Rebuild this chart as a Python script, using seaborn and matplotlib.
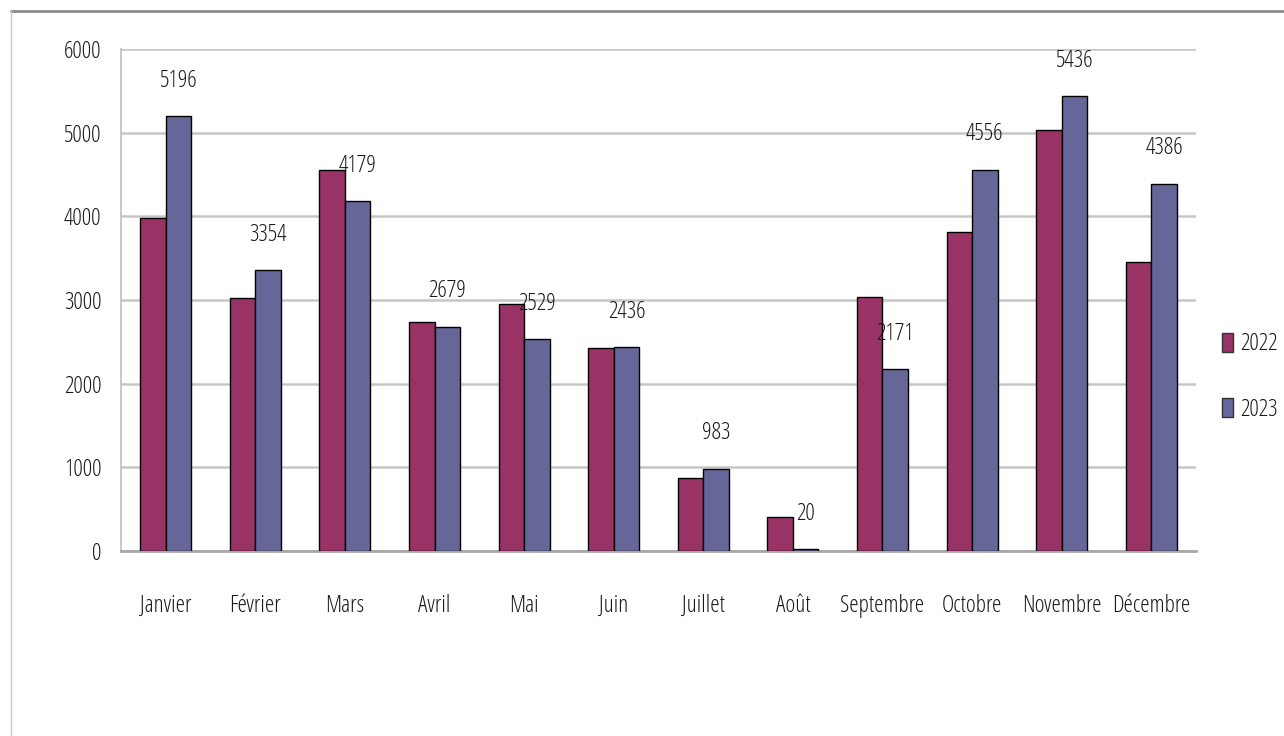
import matplotlib
matplotlib.use("Agg")
import matplotlib.pyplot as plt
from matplotlib.lines import Line2D
from matplotlib.patches import Patch
import seaborn as sns
import pandas as pd

months = ["Janvier", "Février", "Mars", "Avril", "Mai", "Juin", "Juillet",
          "Août", "Septembre", "Octobre", "Novembre", "Décembre"]
values_2022 = [3980, 3022, 4550, 2735, 2958, 2430, 876, 406, 3041, 3818, 5028, 3451]
values_2023 = [5196, 3354, 4179, 2679, 2529, 2436, 983, 20, 2171, 4556, 5436, 4386]
years = ["2022", "2023"]
colors = ["#993366", "#666699"]
y_ticks = [0, 1000, 2000, 3000, 4000, 5000, 6000]

df = pd.DataFrame({
    "Mois": months * 2,
    "Valeur": values_2022 + values_2023,
    "Année": [years[0]] * len(months) + [years[1]] * len(months),
})

sns.set_style("white")
plt.rcParams["font.family"] = ["Open Sans", "DejaVu Sans"]
plt.rcParams["font.stretch"] = "condensed"
FS = 17
TXT = "#1a1a1a"

W, H = 1284, 736
fig = plt.figure(figsize=(W / 100, H / 100), dpi=100)
ax = fig.add_axes([121 / W, 1 - 551 / H, (1196 - 121) / W, (551 - 49) / H])

sns.barplot(data=df, x="Mois", y="Valeur", hue="Année", order=months,
            hue_order=years, palette=colors, width=0.57, gap=0,
            saturation=1, edgecolor="black", linewidth=1.0, ax=ax,
            legend=False, zorder=3)

ax.set_ylim(0, 6000)
ax.set_yticks(y_ticks)
ax.set_yticklabels([str(v) for v in y_ticks], fontsize=FS, color=TXT)
ax.set_xlim(-0.5, len(months) - 0.5)
ax.set_xlabel("")
ax.set_ylabel("")
for lbl in ax.get_xticklabels():
    lbl.set_fontsize(FS)
    lbl.set_color(TXT)
ax.tick_params(axis="x", length=0, pad=31)
ax.tick_params(axis="y", length=0, pad=14)
ax.grid(axis="y", color="#c6c6c6", linewidth=1.8, zorder=0)
ax.set_axisbelow(True)
for s in ["top", "right"]:
    ax.spines[s].set_visible(False)
ax.spines["left"].set_color("#bdbdbd")
ax.spines["left"].set_linewidth(1.2)
ax.spines["bottom"].set_color("#a8a8a8")
ax.spines["bottom"].set_linewidth(2.0)

# data labels on 2023 series
cont = ax.containers[1]
ax.bar_label(cont, labels=[str(v) for v in values_2023], padding=17,
             fontsize=FS, color=TXT)

handles = [Patch(facecolor=c, edgecolor="#333333", linewidth=1.0) for c in colors]
leg = fig.legend(handles, years, loc="center left",
                 bbox_to_anchor=(1222 / W, 1 - 377 / H), frameon=False,
                 fontsize=FS, handlelength=0.45, handleheight=0.85,
                 handletextpad=0.3, labelspacing=1.75, borderpad=0,
                 borderaxespad=0)
for t in leg.get_texts():
    t.set_color(TXT)

# outer frame lines
fig.add_artist(Line2D([11 / W, 1], [1 - 11 / H, 1 - 11 / H], color="#8c8c8c",
                      linewidth=2.0, transform=fig.transFigure))
fig.add_artist(Line2D([11 / W, 11 / W], [0, 1 - 11 / H], color="#c8c8c8",
                      linewidth=1.0, transform=fig.transFigure))

fig.savefig("out.png", dpi=100, facecolor="white")
